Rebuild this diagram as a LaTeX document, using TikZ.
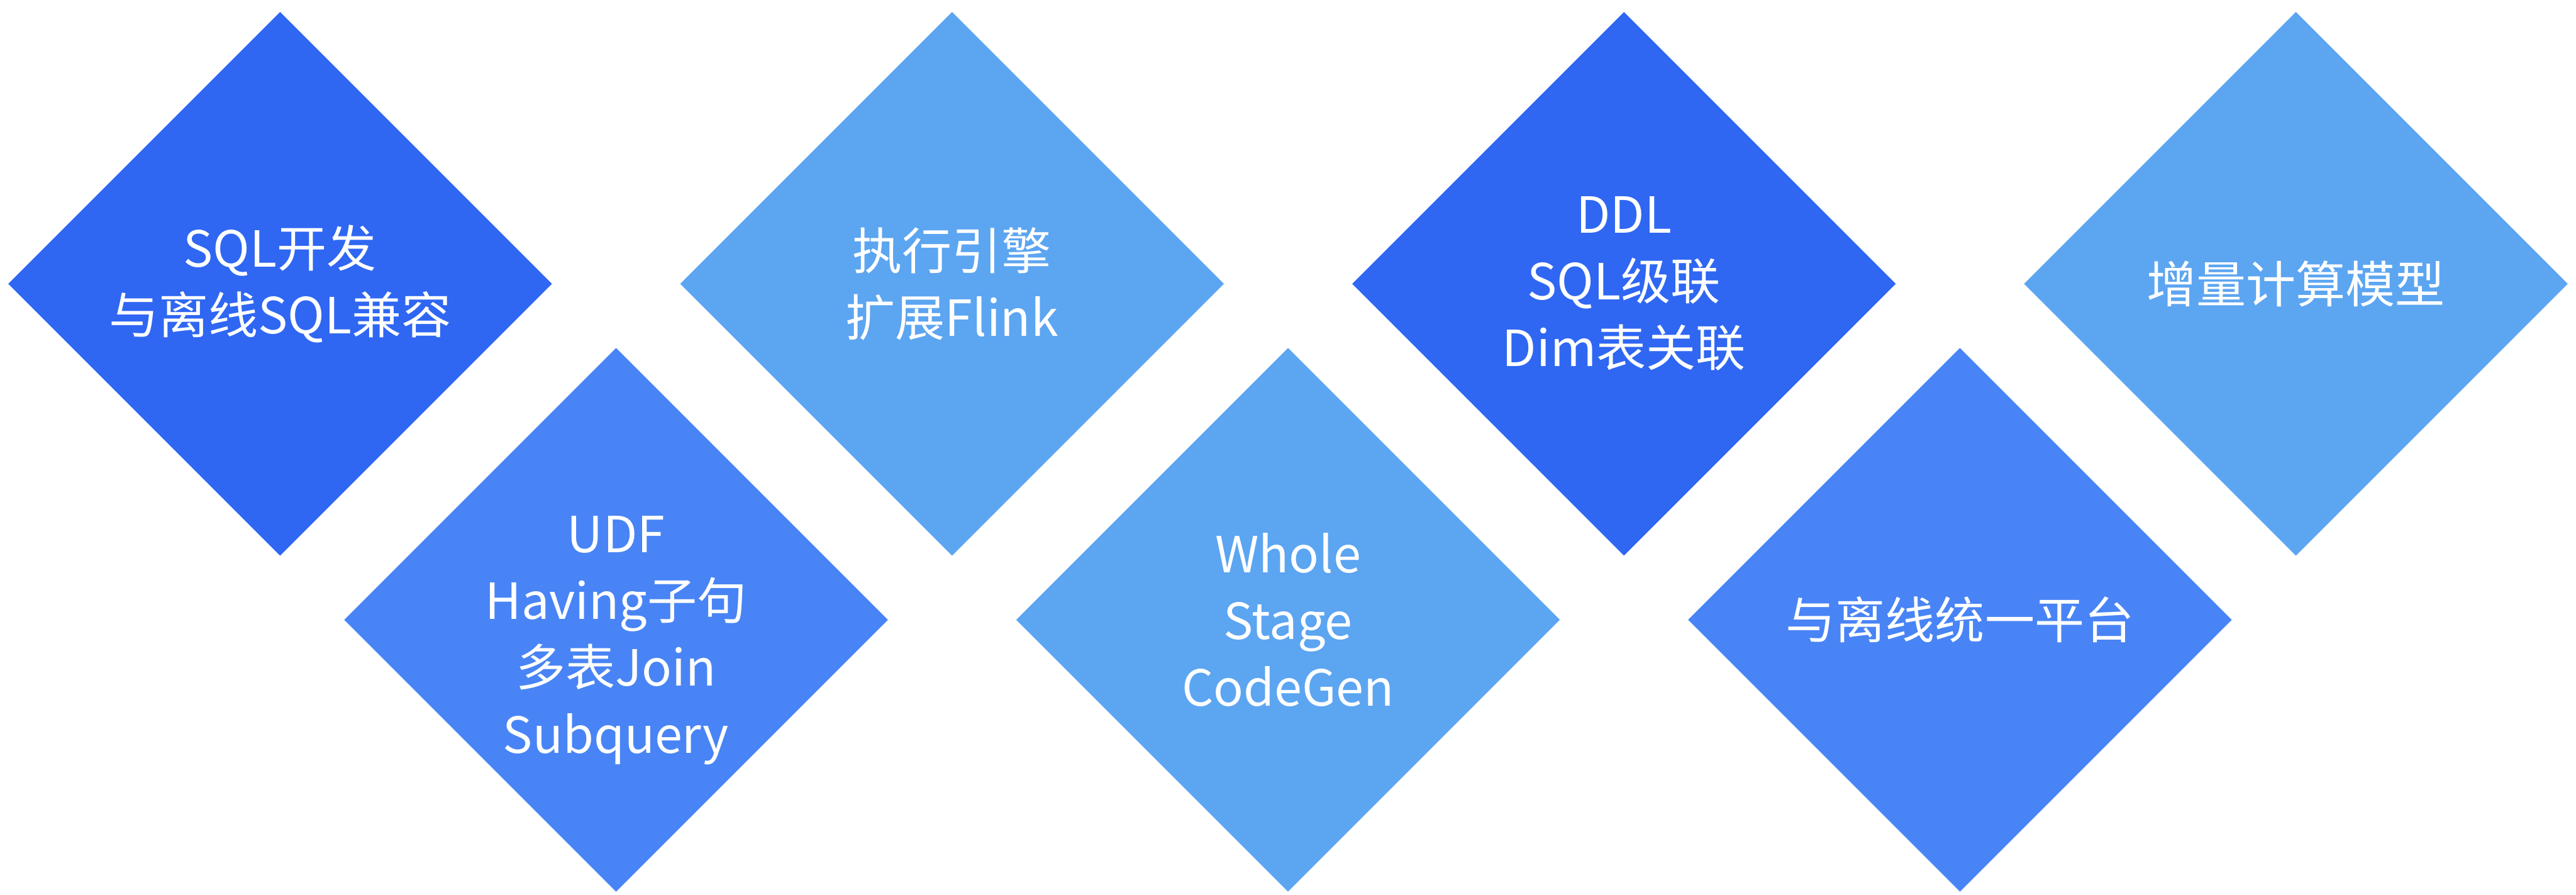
\documentclass[tikz,border=0pt]{standalone}
\usepackage{fontspec}
\setmainfont{Noto Sans CJK SC}
\usetikzlibrary{shapes.geometric}
\definecolor{cdark}{RGB}{47,103,243}
\definecolor{cmid}{RGB}{72,132,245}
\definecolor{clight}{RGB}{92,165,241}
\tikzset{
  dia/.style={diamond, aspect=1, inner sep=0pt, minimum width=8.76cm, minimum height=8.76cm,
    draw=none, text=white, align=center, font=\fontsize{22.8}{30.6}\selectfont},
  lbl/.style={text=white, align=center, inner sep=0pt, font=\fontsize{22.8}{30.6}\selectfont}
}
\begin{document}
\begin{tikzpicture}
\useasboundingbox (0,0) rectangle (41.48,-14.41);
\node[dia, fill=cdark]  (d1) at (4.51,-4.57)  {SQL开发\\与离线SQL兼容};
\node[dia, fill=cmid]   (d2) at (9.92,-9.98)  {};
\node[lbl] (t2) at ([yshift=-0.33cm]d2.center) {UDF\\Having子句\\多表Join\\Subquery};
\node[dia, fill=clight] (d3) at (15.33,-4.57) {执行引擎\\扩展Flink};
\node[dia, fill=clight] (d4) at (20.74,-9.98) {Whole\\Stage\\CodeGen};
\node[dia, fill=cdark]  (d5) at (26.15,-4.57) {DDL\\SQL级联\\Dim表关联};
\node[dia, fill=cmid]   (d6) at (31.56,-9.98) {与离线统一平台};
\node[dia, fill=clight] (d7) at (36.97,-4.57) {增量计算模型};
\end{tikzpicture}
\end{document}
